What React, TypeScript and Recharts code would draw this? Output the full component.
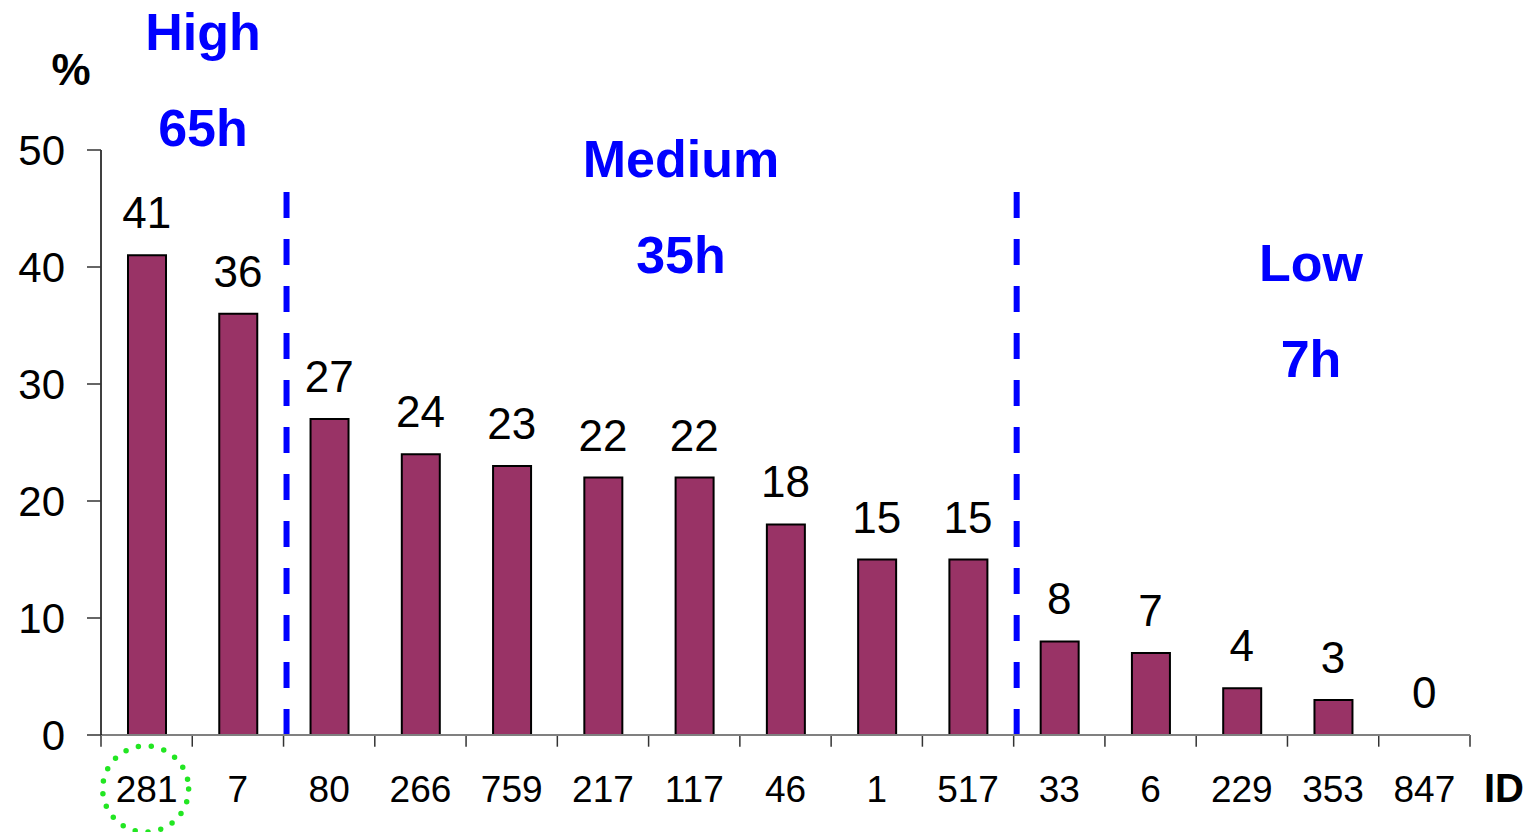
import { ComposedChart, Bar, Line, XAxis, YAxis, LabelList, ReferenceLine } from "recharts";

// hourly consumption share per ID, sorted high to low
const ids = ["281", "7", "80", "266", "759", "217", "117", "46", "1", "517", "33", "6", "229", "353", "847"];
const shares = [41, 36, 27, 24, 23, 22, 22, 18, 15, 15, 8, 7, 4, 3, 0];
const yTicks = [0, 10, 20, 30, 40, 50];

// usage tiers: name, hours, first ID of the tier
const tierNames = ["High", "Medium", "Low"];
const tierHours = ["65h", "35h", "7h"];
const tierStarts = ["281", "80", "33"];

const circledId = "281";

const data = ids.map((id, i) => ({ id, value: shares[i] }));

const FONT = "'Liberation Sans', Arial, sans-serif";
const W = 1532;
const H = 832;

// where the tier headings sit (centre x, baseline of first line)
const tierHeadings = [
  { x: 203, y: 50 },
  { x: 681, y: 177 },
  { x: 1311, y: 281 },
];

function IdTick(props: any) {
  const { x, y, payload } = props;
  return (
    <g>
      {payload.value === circledId && (
        <circle
          cx={x - 1}
          cy={y + 54}
          r={43}
          fill="none"
          stroke="#22e622"
          strokeWidth={5.5}
          strokeLinecap="round"
          strokeDasharray="0 13"
        />
      )}
      <text x={x} y={y + 67} textAnchor="middle" fontSize={37} fontFamily={FONT} fill="#000">
        {payload.value}
      </text>
    </g>
  );
}

// shift the tier dividers a touch right of the category edge
function Divider(props: any) {
  const { x1, y1, x2, y2, stroke, strokeWidth, strokeDasharray } = props;
  return (
    <line
      x1={x1 + 3}
      y1={y1}
      x2={x2 + 3}
      y2={y2}
      stroke={stroke}
      strokeWidth={strokeWidth}
      strokeDasharray={strokeDasharray}
    />
  );
}

export default function App() {
  return (
    <div style={{ position: "absolute", left: 0, top: 0, width: W, height: H, background: "#fff" }}>
      <ComposedChart
        width={W}
        height={H}
        data={data}
        margin={{ top: 150, right: 62, left: 11, bottom: 7 }}
      >
        <XAxis
          dataKey="id"
          height={90}
          interval={0}
          tickLine={false}
          tickSize={0}
          tickMargin={0}
          axisLine={{ stroke: "#808080", strokeWidth: 2 }}
          tick={<IdTick />}
        />
        <YAxis
          width={90}
          domain={[0, 50]}
          ticks={yTicks}
          tickSize={14}
          tickMargin={22}
          axisLine={{ stroke: "#000", strokeWidth: 1.5 }}
          tickLine={{ stroke: "#333", strokeWidth: 1.5 }}
          tick={{ fill: "#000", fontSize: 42, fontFamily: FONT }}
        />
        {/* category boundary ticks below the x axis */}
        {ids.map((id) => (
          <ReferenceLine
            key={"b" + id}
            segment={[{ x: id, y: 0 }, { x: id, y: -1 }]}
            position="start"
            ifOverflow="visible"
            stroke="#333"
            strokeWidth={1.5}
          />
        ))}
        <ReferenceLine
          segment={[{ x: ids[ids.length - 1], y: 0 }, { x: ids[ids.length - 1], y: -1 }]}
          position="end"
          ifOverflow="visible"
          stroke="#333"
          strokeWidth={1.5}
        />
        {/* dashed tier dividers */}
        {tierStarts.slice(1).map((id) => (
          <ReferenceLine
            key={"t" + id}
            segment={[{ x: id, y: 0 }, { x: id, y: 46.6 }]}
            position="start"
            ifOverflow="visible"
            stroke="#0000ff"
            strokeWidth={6}
            strokeDasharray="26 21"
            shape={Divider}
          />
        ))}
        <Bar
          dataKey="value"
          fill="#993366"
          stroke="#000"
          strokeWidth={2}
          barSize={38}
          isAnimationActive={false}
        />
        {/* invisible series carrying the value labels, so zero values still get one */}
        <Line
          dataKey="value"
          stroke="none"
          dot={false}
          activeDot={false}
          isAnimationActive={false}
        >
          <LabelList dataKey="value" position="top" offset={27} fill="#000" fontSize={44} fontFamily={FONT} />
        </Line>
      </ComposedChart>
      <svg
        width={W}
        height={H}
        style={{ position: "absolute", left: 0, top: 0, pointerEvents: "none" }}
        fontFamily={FONT}
        fontWeight="bold"
      >
        <text x={71} y={85} textAnchor="middle" fontSize={44} fill="#000">%</text>
        <text x={1504} y={802} textAnchor="middle" fontSize={40} fill="#000">ID</text>
        {tierNames.map((name, i) => (
          <g key={name}>
            <text x={tierHeadings[i].x} y={tierHeadings[i].y} textAnchor="middle" fontSize={52} fill="#0000ff">
              {name}
            </text>
            <text x={tierHeadings[i].x} y={tierHeadings[i].y + 96} textAnchor="middle" fontSize={52} fill="#0000ff">
              {tierHours[i]}
            </text>
          </g>
        ))}
      </svg>
    </div>
  );
}
